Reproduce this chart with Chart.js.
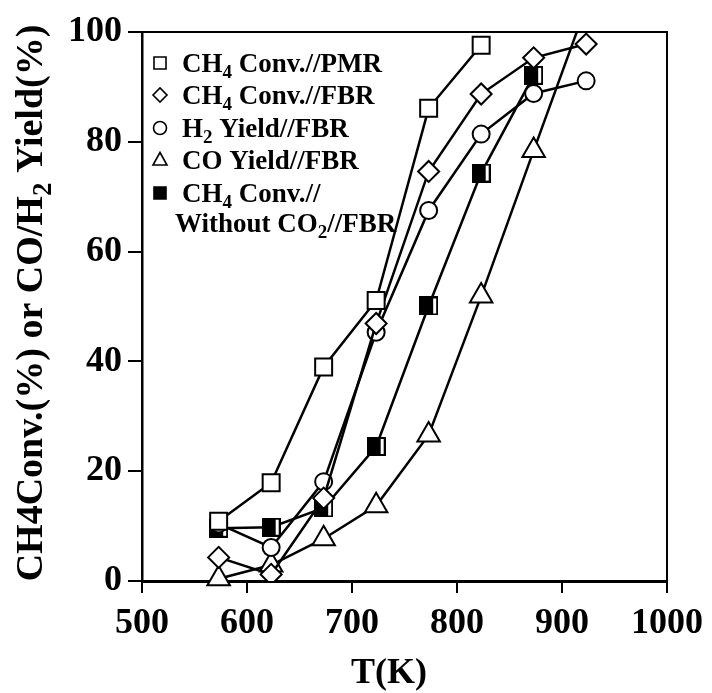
<!DOCTYPE html>
<html><head><meta charset="utf-8">
<script src="https://cdn.jsdelivr.net/npm/chart.js@4/dist/chart.umd.min.js"></script>
<style>html,body{margin:0;padding:0;background:#fff;overflow:hidden}#wrap{width:712px;height:693px;position:relative}</style>
</head><body><div id="wrap"><canvas id="c" width="712" height="693"></canvas></div>
<script>
// ---- data ----
const temperatures = [573, 623, 673, 723, 773, 823, 873, 923];
const ch4ConvPMR     = [10.9, 17.9, 39.0, 51.1, 86.1, 97.6];
const ch4ConvFBR     = [4.3, 1.2, 15.1, 46.9, 74.6, 88.7, 95.3, 97.8];
const h2YieldFBR     = [10.4, 6.1, 18.1, 45.3, 67.5, 81.4, 88.8, 91.1];
const coYieldFBR     = [0.4, 2.9, 7.7, 13.7, 26.6, 51.9, 78.4, 104.7];
const ch4ConvNoCO2   = [9.6, 9.8, 13.3, 24.5, 50.1, 74.3, 92.1];

const xTickValues = [500, 600, 700, 800, 900, 1000];
const xTickLabels = ['500', '600', '700', '800', '900', '1000'];
const yTickValues = [0, 20, 40, 60, 80, 100];
const yTickLabels = ['0', '20', '40', '60', '80', '100'];

// legend text pieces: [text, isSubscript]
const legendEntries = [
  [['CH', false], ['4', true], [' Conv.//PMR', false]],
  [['CH', false], ['4', true], [' Conv.//FBR', false]],
  [['H', false], ['2', true], [' Yield//FBR', false]],
  [['CO Yield//FBR', false]],
  [['CH', false], ['4', true], [' Conv.//', false]]
];
const legendExtraLine = [['Without CO', false], ['2', true], ['//FBR', false]];
const xTitle = [['T(K)', false]];
const yTitle = [['CH4Conv.(%) or CO/H', false], ['2', true], [' Yield(%)', false]];

const FONT = '"Liberation Serif", "Times New Roman", serif';

function toPoints(values) {
  return values.map((v, i) => ({ x: temperatures[i], y: v }));
}

function makeBlackSquare() {
  const c = document.createElement('canvas');
  c.width = 19; c.height = 19;
  const g = c.getContext('2d');
  g.fillStyle = '#000'; g.fillRect(0, 0, 19, 19);
  g.fillStyle = '#fff'; g.fillRect(14, 2, 3, 15);
  return c;
}

const common = {
  showLine: true,
  borderColor: '#000',
  borderWidth: 2.5,
  pointBorderColor: '#000',
  pointBackgroundColor: '#fff',
  pointBorderWidth: 2,
  tension: 0
};

function drawRich(ctx, parts, x, y, size, align) {
  const subSize = Math.round(size * 0.7);
  let total = 0;
  const widths = parts.map(([t, sub]) => {
    ctx.font = 'bold ' + (sub ? subSize : size) + 'px ' + FONT;
    const w = ctx.measureText(t).width;
    total += w;
    return w;
  });
  let cx = align === 'center' ? x - total / 2 : x;
  ctx.textAlign = 'left';
  ctx.textBaseline = 'alphabetic';
  parts.forEach(([t, sub], i) => {
    ctx.font = 'bold ' + (sub ? subSize : size) + 'px ' + FONT;
    ctx.fillText(t, cx, y + (sub ? size * 0.24 : 0));
    cx += widths[i];
  });
}

function legendSymbol(ctx, kind, cx, cy) {
  ctx.save();
  ctx.strokeStyle = '#000';
  ctx.fillStyle = '#fff';
  ctx.lineWidth = 1.6;
  ctx.beginPath();
  if (kind === 'square') {
    ctx.rect(cx - 6, cy - 6, 12, 12);
  } else if (kind === 'diamond') {
    ctx.moveTo(cx - 7, cy); ctx.lineTo(cx, cy - 7); ctx.lineTo(cx + 7, cy); ctx.lineTo(cx, cy + 7); ctx.closePath();
  } else if (kind === 'circle') {
    ctx.arc(cx, cy, 6.5, 0, Math.PI * 2);
  } else if (kind === 'triangle') {
    ctx.moveTo(cx, cy - 7.5); ctx.lineTo(cx + 7, cy + 5); ctx.lineTo(cx - 7, cy + 5); ctx.closePath();
  } else if (kind === 'filled') {
    ctx.fillStyle = '#000';
    ctx.rect(cx - 6, cy - 6, 12, 12);
  }
  ctx.fill();
  ctx.stroke();
  ctx.restore();
}

const decorPlugin = {
  id: 'decor',
  afterDraw(chart) {
    const ctx = chart.ctx;
    const a = chart.chartArea;
    ctx.save();
    // top & right frame
    ctx.strokeStyle = '#000';
    ctx.lineWidth = 2;
    ctx.beginPath();
    ctx.moveTo(a.left, a.top);
    ctx.lineTo(a.right, a.top);
    ctx.lineTo(a.right, a.bottom);
    ctx.stroke();

    ctx.fillStyle = '#000';
    // x title
    drawRich(ctx, xTitle, 389, 683, 36, 'center');
    // y title (rotated)
    ctx.save();
    ctx.translate(29, 303);
    ctx.rotate(-Math.PI / 2);
    drawRich(ctx, yTitle, 0, 12.5, 38, 'center');
    ctx.restore();

    // legend
    const kinds = ['square', 'diamond', 'circle', 'triangle', 'filled'];
    const baselines = [72, 104, 137, 169, 202];
    legendEntries.forEach((parts, i) => {
      legendSymbol(ctx, kinds[i], 160, baselines[i] - 9);
      drawRich(ctx, parts, 182, baselines[i], 27, 'left');
    });
    drawRich(ctx, legendExtraLine, 175, 232, 27, 'left');
    ctx.restore();
  }
};

const tickFont = { family: FONT, size: 36, weight: 'bold' };

new Chart(document.getElementById('c'), {
  type: 'scatter',
  data: {
    datasets: [
      Object.assign({}, common, { label: 'CH4 Conv.//PMR', data: toPoints(ch4ConvPMR), pointStyle: 'rect', pointRadius: 12 }),
      Object.assign({}, common, { label: 'CH4 Conv.//FBR', data: toPoints(ch4ConvFBR), pointStyle: 'rectRot', pointRadius: 10.5 }),
      Object.assign({}, common, { label: 'H2 Yield//FBR', data: toPoints(h2YieldFBR), pointStyle: 'circle', pointRadius: 8.5 }),
      Object.assign({}, common, { label: 'CO Yield//FBR', data: toPoints(coYieldFBR), pointStyle: 'triangle', pointRadius: 13,
        clip: { left: 30, right: 30, bottom: 30, top: 0 } }),
      Object.assign({}, common, { label: 'CH4 Conv.// Without CO2//FBR', data: toPoints(ch4ConvNoCO2), pointStyle: makeBlackSquare(), pointRadius: 10 })
    ]
  },
  options: {
    responsive: false,
    animation: false,
    devicePixelRatio: 1,
    events: [],
    layout: { padding: { top: 32, right: 40, bottom: 0, left: 0 } },
    plugins: { legend: { display: false }, tooltip: { enabled: false }, title: { display: false } },
    scales: {
      x: {
        type: 'linear', min: 500, max: 1000,
        afterBuildTicks: s => { s.ticks = xTickValues.map(v => ({ value: v })); },
        afterFit: s => { s.height = 112; },
        ticks: {
          callback: v => xTickLabels[xTickValues.indexOf(v)],
          font: tickFont, color: '#000', padding: 9, maxRotation: 0, autoSkip: false
        },
        grid: { drawOnChartArea: false, drawTicks: true, tickLength: 12, color: '#000', lineWidth: 2 },
        border: { display: true, color: '#000', width: 3 }
      },
      y: {
        type: 'linear', min: 0, max: 100,
        afterBuildTicks: s => { s.ticks = yTickValues.map(v => ({ value: v })); },
        afterFit: s => { s.width = 142; },
        ticks: {
          callback: v => yTickLabels[yTickValues.indexOf(v)],
          font: tickFont, color: '#000', padding: 6, autoSkip: false
        },
        grid: { drawOnChartArea: false, drawTicks: true, tickLength: 14, color: '#000', lineWidth: 2 },
        border: { display: true, color: '#000', width: 2.5 }
      }
    }
  },
  plugins: [decorPlugin]
});
</script>
</body></html>
